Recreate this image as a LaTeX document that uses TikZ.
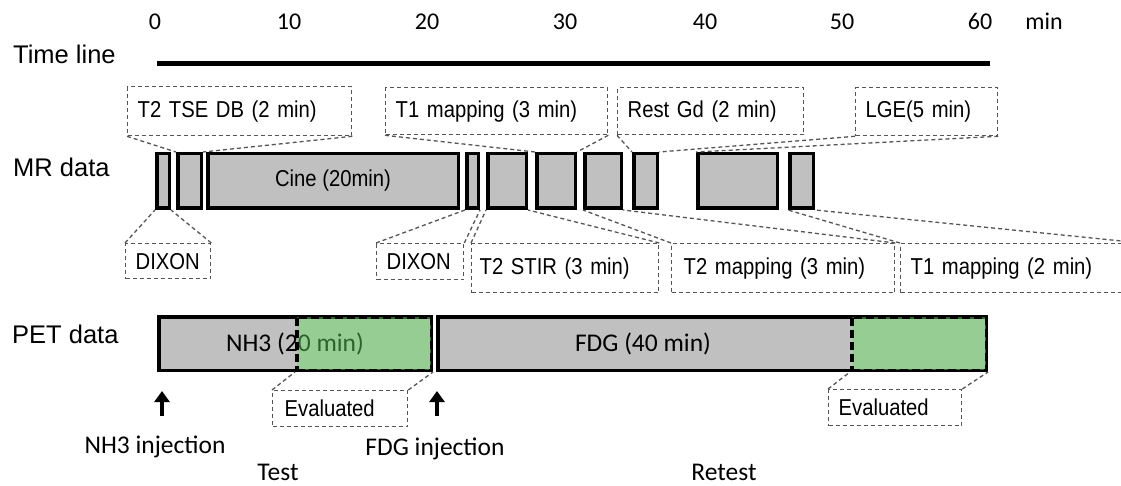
\documentclass[tikz,border=0pt]{standalone}
\usepackage{fontspec}
\setmainfont{Liberation Sans}
\newfontfamily\calibri{Carlito}
\newfontfamily\narrow[FakeStretch=0.88]{Liberation Sans}
\usetikzlibrary{arrows.meta}
\definecolor{boxgray}{RGB}{192,192,192}
\definecolor{evalgreen}{RGB}{99,221,94}
\definecolor{callgray}{RGB}{85,85,85}

\begin{document}
\begin{tikzpicture}[x=1pt,y=-1pt,
    lbl/.style={font=\fontsize{25.5}{30}\selectfont,anchor=base west,inner sep=0pt},
    cal/.style={font=\calibri\fontsize{25.5}{30}\selectfont,anchor=base,inner sep=0pt},
    tick/.style={font=\calibri\fontsize{24}{28}\selectfont,anchor=base,inner sep=0pt},
    mrbox/.style={draw,line width=3.5pt,fill=boxgray,inner sep=0pt,minimum height=54.5pt,font=\narrow\fontsize{23}{26}\selectfont},
    petbox/.style={draw,line width=3.5pt,fill=boxgray,inner sep=0pt,minimum height=53.5pt,font=\calibri\fontsize{25.5}{30}\selectfont},
    evalbox/.style={draw,line width=3.5pt,dash pattern=on 8pt off 4pt,fill=evalgreen,fill opacity=.45,draw opacity=1,inner sep=0pt,minimum height=53.5pt,minimum width=134.5pt},
    callout/.style={draw=callgray,line width=1.3pt,dash pattern=on 4pt off 3pt,anchor=north west,inner xsep=10pt,inner ysep=0pt,align=left,font=\narrow\fontsize{23}{26}\selectfont},
    link/.style={draw=callgray,line width=1.3pt,dash pattern=on 4pt off 3pt},
    inj/.style={-{Triangle[length=11pt,width=15pt]},line width=4.5pt}]
    \path[use as bounding box,fill=white] (0,0) rectangle (1121,486);

    % time axis
    \foreach \t/\x in {0/155,10/289,20/427,30/565,40/705,50/842,60/980}
        \node[tick] (tick\t) at (\x,30) {\t};
    \node[tick] (unit) at (1044,30) {min};
    \node[lbl] (timelabel) at (13,64) {Time line};
    \coordinate (t0) at (157,64);
    \coordinate (t60) at (990,64);
    \draw[line width=5pt] (t0) -- (t60);

    % MR sequences
    \node[lbl] (mrlabel) at (13,177) {MR data};
    \foreach \n/\l/\r/\s in {b1/155/171/,b2/176/203/,b3/206/460/{Cine (20min)},b4/465/480/,b5/486/528/,
                             b6/535/577/,b7/583/623/,b8/632/659/,b9/696/779/,b10/788/815/}
        \node[mrbox,minimum width=\r-\l-3.5] (\n) at ({(\l+\r)/2},181) {\s};

    \node[callout,minimum height=49pt,text width=204pt] (tse) at (127,86) {T2 TSE DB (2 min)};
    \node[callout,minimum height=47pt,text width=202pt] (t1a) at (385,87) {T1 mapping (3 min)};
    \node[callout,minimum height=47pt,text width=166pt] (gd) at (617,87) {Rest Gd (2 min)};
    \node[callout,minimum height=48pt,text width=122pt] (lge) at (855,87) {LGE(5 min)};
    \node[callout,minimum height=35pt,text width=65pt] (dx1) at (125,243) {DIXON};
    \node[callout,minimum height=36pt,text width=67pt] (dx2) at (376,243) {DIXON};
    \node[callout,minimum height=49pt,text width=171pt,inner xsep=8pt] (stir) at (471,243) {T2 STIR (3 min)};
    \node[callout,minimum height=49pt,text width=199pt,inner xsep=12pt] (t2m) at (671,243) {T2 mapping (3 min)};
    \node[callout,minimum height=49pt,text width=220pt] (t1b) at (900,243) {T1 mapping (2 min)};

    \draw[link] (tse.south west) -- (b2.north west) (tse.south east) -- (b2.north east);
    \draw[link] (t1a.south west) -- (b6.north west) (t1a.south east) -- (b6.north east);
    \draw[link] (gd.south west) -- (b8.north west);
    \draw[link] (lge.south west) -- (b8.north east) (lge.south east) -- (b9.north west);
    \draw[link] (dx1.north west) -- (b1.south west) (dx1.north east) -- (b1.south east);
    \draw[link] (dx2.north west) -- (b4.south west) (dx2.north east) -- (b4.south east);
    \draw[link] (stir.north west) -- (b5.south west) (stir.north east) -- (b5.south east);
    \draw[link] (t2m.north west) -- (b7.south west) (t2m.north east) -- (b7.south east);
    \draw[link] (t1b.north west) -- (b10.south west) (t1b.north east) -- (b10.south east);

    % PET scans
    \node[lbl] (petlabel) at (12,343) {PET data};
    \node[petbox,minimum width=272.5pt] (nh3) at (295,343.5) {NH3 (20 min)};
    \node[petbox,minimum width=548.5pt] (fdg) at (712,343.5) {};
    \node[font=\calibri\fontsize{25.5}{30}\selectfont,inner sep=0pt] (fdgtext) at (643,343.5) {FDG (40 min)};
    \node[evalbox] (nh3eval) at (364,343.5) {};
    \node[evalbox] (fdgeval) at (919,343.5) {};

    \node[callout,minimum height=36pt,text width=111pt,inner xsep=12pt] (ev1) at (272,390) {Evaluated};
    \node[callout,minimum height=36pt,text width=113pt] (ev2) at (828,389) {Evaluated};
    \draw[link] (ev1.north west) -- (nh3eval.south west) (ev1.north east) -- (nh3eval.south east);
    \draw[link] (ev2.north west) -- (fdgeval.south west) (ev2.north east) -- (fdgeval.south east);

    \coordinate (nh3tail) at (162,416);
    \coordinate (nh3tip) at (162,391);
    \coordinate (fdgtail) at (437,416);
    \coordinate (fdgtip) at (437,391);
    \draw[inj] (nh3tail) -- (nh3tip);
    \draw[inj] (fdgtail) -- (fdgtip);
    \node[cal] (nh3inj) at (155,453) {NH3 injection};
    \node[cal] (fdginj) at (435,455) {FDG injection};
    \node[cal] (test) at (278,480) {Test};
    \node[cal] (retest) at (724,480) {Retest};
\end{tikzpicture}
\end{document}
